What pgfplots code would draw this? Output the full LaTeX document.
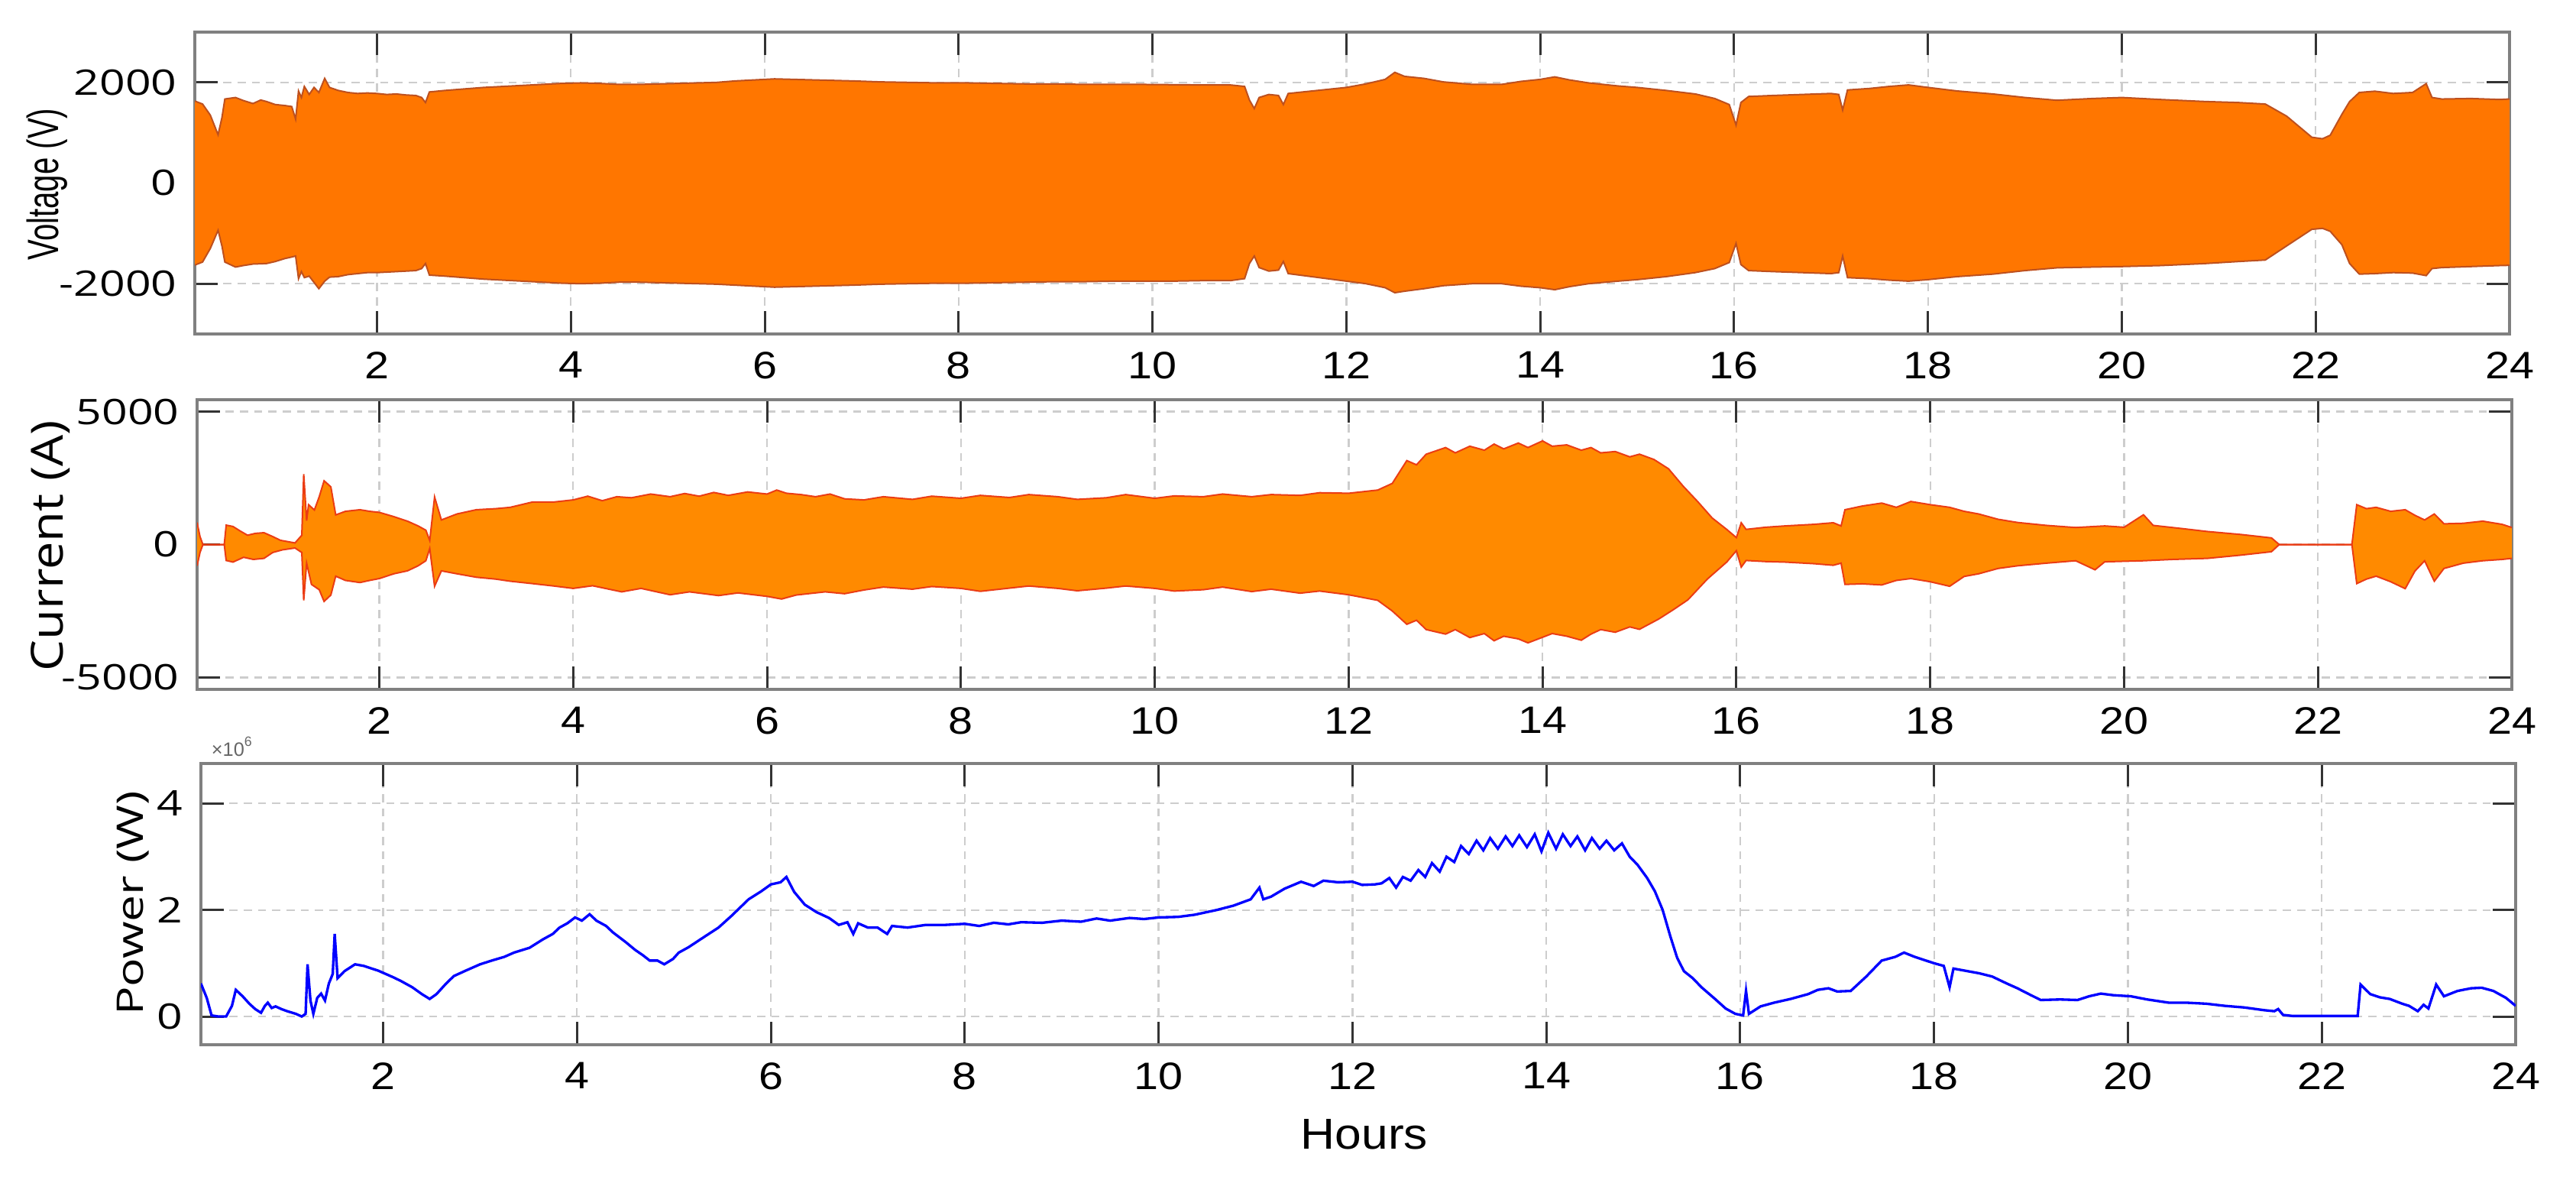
\documentclass[border=0pt]{standalone}
\usepackage{fontspec}
\setmainfont{Liberation Sans}
\newfontfamily\osans{Open Sans}
\usepackage{graphicx}
\usepackage{pgfplots}
\pgfplotsset{compat=1.18}
\usepgfplotslibrary{fillbetween}

\definecolor{vorange}{RGB}{255,118,0}
\definecolor{vedge}{RGB}{190,80,30}
\definecolor{iorange}{RGB}{255,138,0}
\definecolor{iedge}{RGB}{235,60,20}
\definecolor{gridgray}{RGB}{205,205,205}

\pgfplotsset{
  panel/.style={
    scale only axis, anchor=south west,
    width=454.5pt,
    xmin=0.12, xmax=24,
    xtick={2,4,...,24},
    tick align=inside, xtick pos=both, ytick pos=both,
    major tick length=4.5pt,
    tick style={black!80, line width=0.45pt},
    axis line style={black!50, line width=0.5pt},
    grid=major,
    major grid style={gridgray, dash pattern=on 1.6pt off 1.2pt, line width=0.35pt},
    scaled ticks=false,
    /pgf/number format/assume math mode=true,
    /pgf/number format/1000 sep={},
    xticklabel style={font=\fontsize{7.5}{9}\selectfont},
    xticklabel={\scalebox{1.15}[1]{\pgfmathprintnumber{\tick}}},
    yticklabel style={font=\osans\fontsize{6.9}{8}\selectfont},
    yticklabel={\scalebox{1.28}[1]{\pgfmathprintnumber{\tick}}},
  }
}

\begin{document}
\begin{tikzpicture}

% ---- voltage ----
\begin{axis}[panel, at={(38.25pt,168.45pt)}, height=59.25pt,
  ymin=-3000, ymax=3000, ytick={-2000,0,2000}]
\addplot[name path=vu, draw=vedge, line width=0.3pt] coordinates {
 (0.12,1630) (0.2,1570) (0.28,1350) (0.36,960) (0.4,1300) (0.43,1670) (0.54,1700) (0.62,1640)
 (0.72,1580) (0.8,1650) (0.86,1620) (0.95,1560) (1.05,1540) (1.12,1520) (1.16,1270) (1.19,1830)
 (1.22,1700) (1.25,1920) (1.3,1760) (1.35,1900) (1.4,1800) (1.46,2080) (1.51,1900) (1.6,1840)
 (1.7,1800) (1.8,1780) (1.9,1790) (2.0,1780) (2.1,1760) (2.2,1770) (2.3,1750) (2.4,1740)
 (2.46,1700) (2.5,1600) (2.54,1810) (2.7,1840) (2.9,1870) (3.1,1900) (3.3,1920) (3.5,1940)
 (3.7,1960) (3.9,1980) (4.1,1990) (4.3,1980) (4.5,1960) (4.7,1960) (4.9,1970) (5.1,1980)
 (5.3,1990) (5.5,2000) (5.7,2030) (5.9,2050) (6.1,2070) (6.3,2060) (6.5,2050) (6.7,2040)
 (6.9,2030) (7.2,2010) (7.5,2000) (7.8,1990) (8.1,1990) (8.4,1980) (8.7,1970) (9.0,1970)
 (9.3,1960) (9.6,1960) (9.9,1960) (10.2,1955) (10.5,1950) (10.8,1950) (10.95,1920) (11.0,1650)
 (11.05,1480) (11.1,1700) (11.2,1760) (11.3,1740) (11.35,1560) (11.4,1780) (11.6,1820) (11.8,1860)
 (12.0,1900) (12.2,1970) (12.4,2060) (12.5,2200) (12.6,2120) (12.8,2080) (13.0,2010) (13.3,1960)
 (13.6,1960) (13.8,2020) (14.0,2060) (14.15,2110) (14.3,2050) (14.5,1990) (14.8,1930) (15.0,1900)
 (15.3,1840) (15.6,1770) (15.8,1680) (15.95,1560) (16.02,1150) (16.07,1600) (16.15,1720) (16.4,1740)
 (16.7,1760) (17.0,1780) (17.08,1760) (17.12,1450) (17.17,1850) (17.4,1880) (17.6,1920) (17.8,1950)
 (18.0,1900) (18.3,1830) (18.67,1770) (19.0,1700) (19.33,1645) (19.7,1680) (20.0,1700) (20.4,1660)
 (20.86,1620) (21.2,1600) (21.48,1570) (21.7,1330) (21.96,910) (22.07,880) (22.15,950) (22.27,1365)
 (22.35,1620) (22.45,1800) (22.61,1825) (22.8,1780) (23.0,1800) (23.14,1975) (23.2,1700) (23.3,1670)
 (23.6,1680) (23.9,1660) (24.0,1670)};
\addplot[name path=vl, draw=vedge, line width=0.3pt] coordinates {
 (0.12,-1630) (0.2,-1570) (0.28,-1300) (0.36,-940) (0.4,-1250) (0.43,-1570) (0.54,-1670) (0.62,-1640)
 (0.72,-1610) (0.86,-1600) (0.95,-1560) (1.05,-1500) (1.12,-1470) (1.16,-1450) (1.19,-1900) (1.22,-1760)
 (1.25,-1880) (1.3,-1850) (1.4,-2100) (1.46,-1950) (1.51,-1870) (1.6,-1860) (1.7,-1820) (1.8,-1800)
 (1.9,-1780) (2.0,-1780) (2.2,-1760) (2.4,-1740) (2.46,-1700) (2.5,-1600) (2.54,-1830) (2.7,-1850)
 (2.9,-1880) (3.1,-1910) (3.3,-1930) (3.5,-1950) (3.7,-1970) (3.9,-1990) (4.1,-2000) (4.3,-1990)
 (4.5,-1970) (4.7,-1970) (4.9,-1980) (5.1,-1990) (5.3,-2000) (5.5,-2010) (5.7,-2030) (5.9,-2050)
 (6.1,-2070) (6.3,-2060) (6.5,-2050) (6.7,-2040) (6.9,-2030) (7.2,-2010) (7.5,-2000) (7.8,-1990)
 (8.1,-1990) (8.4,-1980) (8.7,-1970) (9.0,-1960) (9.3,-1960) (9.6,-1950) (9.9,-1950) (10.2,-1950)
 (10.5,-1940) (10.8,-1940) (10.95,-1900) (11.0,-1600) (11.05,-1450) (11.1,-1680) (11.2,-1750) (11.3,-1730)
 (11.35,-1560) (11.4,-1800) (11.6,-1850) (11.8,-1900) (12.0,-1950) (12.2,-2000) (12.4,-2080) (12.5,-2180)
 (12.6,-2150) (12.8,-2100) (13.0,-2040) (13.3,-2000) (13.6,-2000) (13.8,-2050) (14.0,-2080) (14.15,-2120)
 (14.3,-2060) (14.5,-2000) (14.8,-1950) (15.0,-1920) (15.3,-1860) (15.6,-1780) (15.8,-1700) (15.95,-1580)
 (16.02,-1200) (16.07,-1620) (16.15,-1740) (16.4,-1760) (16.7,-1780) (17.0,-1800) (17.08,-1780) (17.12,-1450)
 (17.17,-1880) (17.4,-1900) (17.6,-1930) (17.8,-1950) (18.0,-1920) (18.3,-1860) (18.67,-1810) (19.0,-1740)
 (19.33,-1685) (19.7,-1670) (20.0,-1660) (20.4,-1640) (20.86,-1600) (21.2,-1560) (21.48,-1530) (21.7,-1250)
 (21.96,-920) (22.07,-900) (22.15,-960) (22.27,-1225) (22.35,-1600) (22.45,-1810) (22.61,-1800) (22.8,-1780)
 (23.0,-1790) (23.14,-1840) (23.2,-1700) (23.3,-1680) (23.6,-1660) (23.9,-1640) (24.0,-1635)};
\addplot[fill=vorange, draw=none] fill between[of=vu and vl];
\end{axis}

% ---- current ----
\begin{axis}[panel, at={(38.7pt,98.7pt)}, height=56.85pt,
  ymin=-5450, ymax=5450, ytick={-5000,0,5000}]
\addplot[name path=iu, draw=iedge, line width=0.3pt] coordinates {
 (0.12,830) (0.15,300) (0.18,0) (0.40,0) (0.42,730) (0.49,680) (0.56,520) (0.64,350) (0.72,420)
 (0.81,445) (0.9,300) (0.98,160) (1.13,60) (1.2,350) (1.22,2650) (1.25,900) (1.27,1500) (1.33,1300)
 (1.38,1800) (1.43,2400) (1.5,2170) (1.55,1115) (1.65,1250) (1.8,1310) (1.9,1250) (2.0,1210)
 (2.15,1050) (2.29,880) (2.4,700) (2.48,540) (2.52,150) (2.57,1790) (2.64,925) (2.8,1150) (3.0,1310)
 (3.2,1350) (3.35,1400) (3.58,1600) (3.8,1600) (4.0,1680) (4.15,1820) (4.3,1650) (4.45,1800)
 (4.6,1760) (4.8,1900) (5.0,1800) (5.15,1920) (5.3,1820) (5.45,1960) (5.6,1850) (5.8,1980)
 (6.0,1900) (6.1,2050) (6.2,1930) (6.35,1880) (6.5,1800) (6.65,1900) (6.8,1720) (7.0,1680)
 (7.2,1800) (7.5,1700) (7.7,1820) (8.0,1740) (8.2,1850) (8.5,1770) (8.7,1880) (9.0,1800)
 (9.2,1700) (9.5,1760) (9.7,1880) (10.0,1740) (10.2,1830) (10.5,1800) (10.7,1900) (11.0,1800)
 (11.2,1880) (11.5,1850) (11.7,1950) (12.0,1930) (12.3,2050)
 (12.45,2300) (12.6,3160) (12.7,3000) (12.8,3400) (13.0,3650) (13.1,3450) (13.25,3700) (13.4,3550)
 (13.5,3780) (13.6,3600) (13.75,3820) (13.85,3650) (14.0,3900) (14.1,3700) (14.25,3750) (14.4,3550)
 (14.5,3650) (14.6,3450) (14.75,3500) (14.9,3300) (15.0,3400) (15.15,3200) (15.3,2850) (15.45,2200)
 (15.6,1620) (15.75,1000) (15.9,570) (16.0,260) (16.05,820) (16.1,570) (16.3,650) (16.5,700) (16.8,760)
 (17.0,820) (17.08,700) (17.12,1310) (17.3,1450) (17.5,1560) (17.65,1400) (17.8,1620) (18.0,1500)
 (18.2,1400) (18.35,1250) (18.5,1150) (18.7,950) (18.9,830) (19.2,720) (19.5,640) (19.8,700) (20.0,650)
 (20.2,1120) (20.3,720) (20.6,600) (20.86,490) (21.2,380) (21.52,250) (21.6,0) (22.35,0) (22.4,1500)
 (22.5,1350) (22.6,1400) (22.75,1250) (22.9,1310) (23.0,1100) (23.1,925) (23.2,1150) (23.3,780)
 (23.5,800) (23.7,880) (23.9,760) (24.0,640)};
\addplot[name path=il, draw=iedge, line width=0.3pt] coordinates {
 (0.12,-800) (0.15,-300) (0.18,0) (0.40,0) (0.42,-600) (0.49,-660) (0.6,-480) (0.7,-560) (0.81,-520)
 (0.9,-300) (1.0,-200) (1.13,-130) (1.2,-300) (1.22,-2100) (1.25,-700) (1.3,-1500) (1.38,-1700)
 (1.43,-2140) (1.5,-1900) (1.55,-1190) (1.65,-1350) (1.8,-1430) (1.9,-1350) (2.0,-1280) (2.15,-1100)
 (2.29,-990) (2.4,-800) (2.48,-610) (2.52,-150) (2.57,-1570) (2.64,-990) (2.8,-1100) (3.0,-1230)
 (3.2,-1300) (3.35,-1380) (3.58,-1470) (3.8,-1560) (4.0,-1650) (4.2,-1550) (4.5,-1780) (4.7,-1650)
 (5.0,-1890) (5.2,-1780) (5.5,-1920) (5.7,-1820) (6.0,-1950) (6.15,-2050) (6.3,-1900) (6.6,-1780)
 (6.8,-1850) (7.0,-1710) (7.2,-1600) (7.5,-1680) (7.7,-1580) (8.0,-1650) (8.2,-1760) (8.5,-1640)
 (8.7,-1560) (9.0,-1650) (9.2,-1740) (9.5,-1640) (9.7,-1560) (10.0,-1650) (10.2,-1750) (10.5,-1700)
 (10.7,-1600) (11.0,-1770) (11.2,-1680) (11.5,-1830) (11.7,-1750) (12.0,-1890) (12.3,-2100) (12.45,-2500)
 (12.6,-3000) (12.7,-2850) (12.8,-3200) (13.0,-3370) (13.1,-3200) (13.25,-3500) (13.4,-3350) (13.5,-3620)
 (13.6,-3450) (13.75,-3550) (13.85,-3700) (14.0,-3490) (14.1,-3350) (14.25,-3450) (14.4,-3600)
 (14.5,-3370) (14.6,-3200) (14.75,-3300) (14.9,-3100) (15.0,-3190) (15.2,-2800) (15.35,-2450) (15.5,-2080)
 (15.7,-1300) (15.9,-660) (16.0,-230) (16.05,-850) (16.1,-600) (16.3,-640) (16.5,-660) (16.8,-720)
 (17.0,-780) (17.08,-700) (17.12,-1500) (17.3,-1480) (17.5,-1520) (17.65,-1350) (17.8,-1280) (18.0,-1400)
 (18.2,-1570) (18.35,-1200) (18.5,-1100) (18.7,-900) (18.9,-800) (19.2,-700) (19.5,-610) (19.7,-950)
 (19.8,-650) (20.2,-610) (20.5,-560) (20.86,-520) (21.2,-400) (21.52,-270) (21.6,0) (22.35,0)
 (22.4,-1470) (22.5,-1300) (22.6,-1190) (22.75,-1400) (22.9,-1660) (23.0,-1000) (23.1,-610) (23.2,-1380)
 (23.3,-900) (23.5,-700) (23.7,-610) (23.9,-560) (24.0,-520)};
\addplot[fill=iorange, draw=none] fill between[of=iu and il];
\end{axis}

% ---- power (x10^6 W) ----
\begin{axis}[panel, at={(39.45pt,28.95pt)}, height=55.2pt,
  ymin=-0.53, ymax=4.75, ytick={0,2,4}]
\addplot[blue, line width=0.5pt] coordinates {
 (0.12,0.62) (0.18,0.35) (0.23,0.02) (0.3,0.0) (0.38,0.0) (0.44,0.2) (0.48,0.5) (0.55,0.38) (0.62,0.24)
 (0.68,0.14) (0.74,0.07) (0.78,0.2) (0.81,0.26) (0.85,0.16) (0.89,0.19) (0.95,0.14) (1.01,0.1) (1.1,0.05)
 (1.16,0.0) (1.2,0.05) (1.22,0.98) (1.25,0.3) (1.28,0.05) (1.32,0.35) (1.36,0.43) (1.4,0.3) (1.44,0.62)
 (1.48,0.8) (1.5,1.55) (1.53,0.72) (1.6,0.85) (1.71,0.98) (1.8,0.95) (1.95,0.86) (2.1,0.74) (2.18,0.67)
 (2.3,0.55) (2.4,0.42) (2.48,0.33) (2.55,0.42) (2.65,0.62) (2.73,0.76) (2.85,0.86) (3.0,0.98) (3.12,1.05)
 (3.25,1.12) (3.35,1.2) (3.51,1.29) (3.65,1.45) (3.75,1.55) (3.82,1.67) (3.9,1.75) (3.98,1.86) (4.05,1.8)
 (4.13,1.92) (4.2,1.8) (4.3,1.7) (4.37,1.58) (4.5,1.4) (4.6,1.25) (4.68,1.15) (4.75,1.05) (4.83,1.05)
 (4.9,0.98) (4.99,1.08) (5.05,1.2) (5.15,1.3) (5.3,1.48) (5.46,1.67) (5.6,1.9) (5.77,2.2) (5.9,2.35)
 (6.0,2.48) (6.1,2.52) (6.16,2.62) (6.24,2.34) (6.35,2.1) (6.47,1.96) (6.6,1.85) (6.7,1.72) (6.79,1.77)
 (6.85,1.55) (6.9,1.75) (7.0,1.67) (7.1,1.67) (7.2,1.55) (7.25,1.7) (7.41,1.67) (7.6,1.72) (7.8,1.72)
 (8.0,1.74) (8.15,1.7) (8.3,1.76) (8.45,1.73) (8.58,1.77) (8.8,1.76) (9.0,1.8) (9.2,1.78) (9.36,1.84)
 (9.5,1.8) (9.7,1.85) (9.85,1.83) (10.0,1.86) (10.2,1.87) (10.37,1.91) (10.6,2.0) (10.77,2.08)
 (10.95,2.2) (11.04,2.42) (11.08,2.2) (11.16,2.25) (11.3,2.4) (11.47,2.53) (11.6,2.45) (11.7,2.55)
 (11.85,2.52) (12.0,2.53) (12.1,2.47) (12.23,2.48) (12.3,2.5) (12.38,2.6) (12.45,2.42) (12.52,2.62)
 (12.6,2.55) (12.68,2.75) (12.75,2.62) (12.82,2.88) (12.9,2.72) (12.97,3.0) (13.05,2.9) (13.12,3.2)
 (13.2,3.05) (13.28,3.3) (13.35,3.12) (13.42,3.35) (13.5,3.15) (13.58,3.38) (13.65,3.2) (13.72,3.4)
 (13.8,3.18) (13.88,3.42) (13.95,3.1) (14.02,3.45) (14.1,3.15) (14.17,3.42) (14.25,3.2) (14.32,3.38)
 (14.4,3.12) (14.47,3.35) (14.55,3.15) (14.62,3.3) (14.7,3.12) (14.78,3.25) (14.86,3.0) (14.94,2.85)
 (15.04,2.6) (15.12,2.35) (15.2,2.0) (15.28,1.5) (15.35,1.1) (15.42,0.85) (15.51,0.72)
 (15.6,0.55) (15.74,0.33) (15.85,0.15) (15.95,0.05) (16.03,0.02) (16.06,0.48) (16.09,0.05) (16.21,0.19)
 (16.35,0.26) (16.52,0.33) (16.7,0.42) (16.8,0.5) (16.91,0.53) (17.0,0.47) (17.14,0.48) (17.3,0.75)
 (17.46,1.05) (17.6,1.12) (17.69,1.2) (17.8,1.12) (18.0,1.0) (18.1,0.95) (18.16,0.55) (18.2,0.9)
 (18.35,0.85) (18.47,0.81) (18.6,0.75) (18.75,0.62) (18.86,0.53) (19.0,0.4) (19.1,0.31) (19.3,0.32)
 (19.48,0.31) (19.6,0.38) (19.72,0.43) (19.85,0.4) (20.03,0.38) (20.2,0.32) (20.42,0.26) (20.6,0.26)
 (20.81,0.24) (21.0,0.2) (21.2,0.17) (21.4,0.12) (21.51,0.1) (21.55,0.14) (21.6,0.03) (21.7,0.01)
 (22.37,0.01) (22.4,0.6) (22.5,0.42) (22.6,0.36) (22.7,0.33) (22.83,0.24) (22.9,0.2) (22.99,0.1)
 (23.05,0.22) (23.1,0.15) (23.18,0.6) (23.26,0.38) (23.4,0.48) (23.54,0.53) (23.65,0.54) (23.77,0.48)
 (23.9,0.35) (24.0,0.2)};
\end{axis}

% axis titles
\node[rotate=90, font=\fontsize{8.6}{10}\selectfont] at (9.3pt,197.85pt) {\scalebox{0.7}[1]{Voltage (V)}};
\node[rotate=90, font=\osans\fontsize{8.7}{10}\selectfont] at (9.9pt,126.9pt) {\scalebox{1.12}[1]{Current (A)}};
\node[rotate=90, font=\osans\fontsize{7.2}{9}\selectfont] at (26.1pt,56.7pt) {\scalebox{1.3}[1]{Power (W)}};
\node[font=\fontsize{3.8}{4.5}\selectfont, text=black!60] at (45.75pt,87.45pt) {×10\textsuperscript{6}};
\node[font=\fontsize{8.5}{10}\selectfont] at (267.9pt,11.4pt) {\scalebox{1.1}[1]{Hours}};

\pgfresetboundingbox
\path[use as bounding box] (0,0) rectangle (505.8pt,234pt);
\end{tikzpicture}
\end{document}
